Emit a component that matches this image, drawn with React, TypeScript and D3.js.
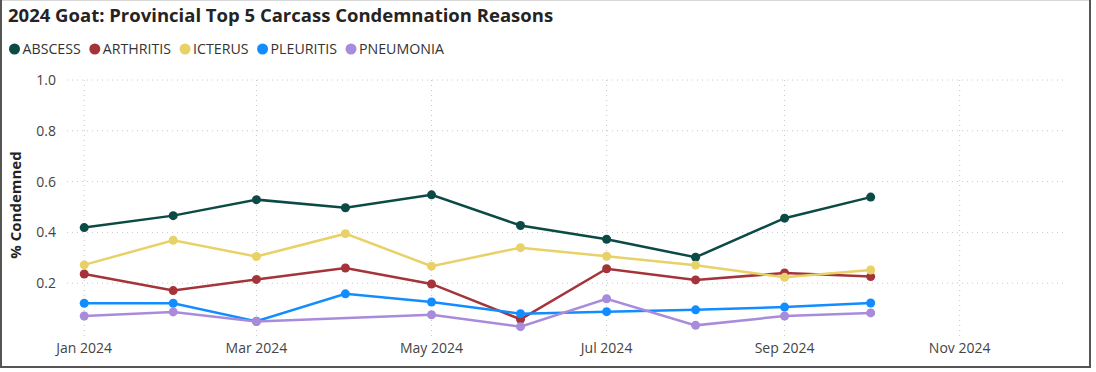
import React, { useEffect, useRef } from 'react';
import * as d3 from 'd3';

const months = ['2024-01-01', '2024-02-01', '2024-03-01', '2024-04-01', '2024-05-01',
  '2024-06-01', '2024-07-01', '2024-08-01', '2024-09-01', '2024-10-01'];

const abscess = [0.419, 0.466, 0.529, 0.497, 0.548, 0.427, 0.373, 0.302, 0.456, 0.539];
const arthritis = [0.236, 0.171, 0.215, 0.260, 0.197, 0.058, 0.257, 0.213, 0.240, 0.226];
const icterus = [0.272, 0.369, 0.305, 0.395, 0.267, 0.340, 0.306, 0.271, 0.223, 0.252];
const pleuritis = [0.121, 0.121, 0.050, 0.158, 0.126, 0.080, 0.088, 0.095, 0.106, 0.122];
const pneumonia = [0.071, 0.087, 0.049, null, 0.076, 0.029, 0.139, 0.034, 0.071, 0.083];

const seriesNames = ['ABSCESS', 'ARTHRITIS', 'ICTERUS', 'PLEURITIS', 'PNEUMONIA'];
const seriesValues = [abscess, arthritis, icterus, pleuritis, pneumonia];
const colors = ['#0b4a45', '#a4343a', '#e8d166', '#118dff', '#a98bdb'];

const yTicks = [0.2, 0.4, 0.6, 0.8, 1.0];
const xTicks = ['2024-01-01', '2024-03-01', '2024-05-01', '2024-07-01', '2024-09-01', '2024-11-01'];

const font = '"Segoe UI", "Open Sans", "DejaVu Sans", sans-serif';

function LineChart() {
  const svgRef = useRef<SVGSVGElement>(null);

  useEffect(() => {
    const width = 1096;
    const height = 372;
    const parse = d3.timeParse('%Y-%m-%d');

    const svg = d3.select(svgRef.current);
    svg.selectAll('*').remove();
    svg.attr('width', width).attr('height', height);

    // frame
    svg.append('rect').attr('x', 0).attr('y', 0).attr('width', width).attr('height', height).attr('fill', '#fff');
    svg.append('line').attr('x1', 0).attr('x2', 1090).attr('y1', 0.5).attr('y2', 0.5).attr('stroke', '#d8d8d8');
    svg.append('path')
      .attr('d', 'M1,0 V367 H1090 V0')
      .attr('fill', 'none').attr('stroke', '#555').attr('stroke-width', 2);

    const x = d3.scaleTime()
      .domain([new Date(2023, 11, 26), new Date(2024, 11, 7)])
      .range([67, 1063]);
    const y = d3.scaleLinear().domain([0, 1]).range([334, 80]);

    // gridlines
    svg.append('g').selectAll('line').data(yTicks).enter().append('line')
      .attr('x1', 67).attr('x2', 1063)
      .attr('y1', (d) => y(d)).attr('y2', (d) => y(d))
      .attr('stroke', '#c8c8c8').attr('stroke-dasharray', '1,4');
    svg.append('g').selectAll('line').data(xTicks).enter().append('line')
      .attr('x1', (d) => x(parse(d)!)).attr('x2', (d) => x(parse(d)!))
      .attr('y1', 80).attr('y2', 336)
      .attr('stroke', '#c8c8c8').attr('stroke-dasharray', '1,4');

    // y tick labels
    svg.append('g').selectAll('text').data(yTicks).enter().append('text')
      .attr('x', 56).attr('y', (d) => y(d)).attr('dy', '0.35em')
      .attr('text-anchor', 'end')
      .style('font-family', font).style('font-size', '14px').style('fill', '#444')
      .text((d) => d3.format('.1f')(d));

    // x tick labels
    svg.append('g').selectAll('text').data(xTicks).enter().append('text')
      .attr('x', (d) => x(parse(d)!)).attr('y', 353)
      .attr('text-anchor', 'middle')
      .style('font-family', font).style('font-size', '14px').style('fill', '#444')
      .text((d) => d3.timeFormat('%b %Y')(parse(d)!));

    // y axis title
    svg.append('text')
      .attr('transform', 'translate(21,205) rotate(-90)')
      .attr('text-anchor', 'middle')
      .style('font-family', font).style('font-size', '15px').style('font-weight', 'bold').style('fill', '#252423')
      .text('% Condemned');

    // title
    svg.append('text')
      .attr('x', 8).attr('y', 22)
      .style('font-family', font).style('font-size', '18.5px').style('font-weight', 'bold').style('fill', '#252423')
      .text('2024 Goat: Provincial Top 5 Carcass Condemnation Reasons');

    // legend, laid out by measured text width
    const legend = svg.append('g').attr('transform', 'translate(0,49)');
    let cx = 14.5;
    seriesNames.forEach((name, i) => {
      legend.append('circle').attr('cx', cx).attr('r', 5.5).attr('fill', colors[i]);
      const t = legend.append('text').attr('x', cx + 8).attr('dy', '0.36em')
        .style('font-family', font).style('font-size', '14.2px').style('fill', '#333')
        .text(name);
      const w = (t.node() as SVGTextElement).getComputedTextLength();
      cx = cx + 8 + w + 14;
    });

    // lines and markers
    seriesValues.forEach((vals, i) => {
      const pts = vals
        .map((v, j) => ({ date: parse(months[j])!, value: v }))
        .filter((p) => p.value !== null) as { date: Date; value: number }[];
      const line = d3.line<{ date: Date; value: number }>()
        .x((d) => x(d.date))
        .y((d) => y(d.value));
      svg.append('path').datum(pts)
        .attr('d', line)
        .attr('fill', 'none').attr('stroke', colors[i]).attr('stroke-width', 2.5);
      svg.append('g').selectAll('circle').data(pts).enter().append('circle')
        .attr('cx', (d) => x(d.date)).attr('cy', (d) => y(d.value))
        .attr('r', 4.5).attr('fill', colors[i]);
    });
  }, []);

  return <svg ref={svgRef}></svg>;
}

export default function App() {
  return (
    <div style={{ position: 'absolute', left: 0, top: 0 }}>
      <LineChart />
    </div>
  );
}
